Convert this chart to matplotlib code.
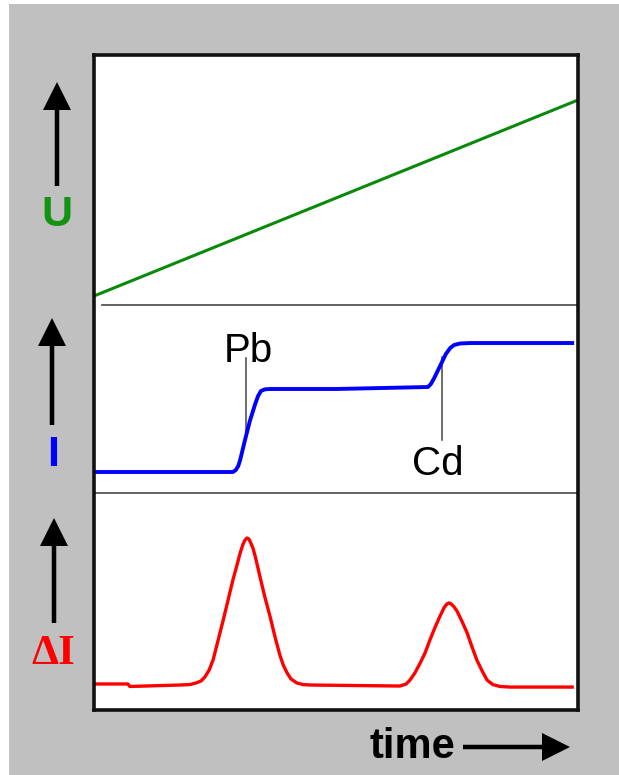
import matplotlib
matplotlib.use("Agg")
import matplotlib.pyplot as plt
from matplotlib.patches import Rectangle, FancyArrow

plt.rcParams['font.family'] = ['Liberation Sans', 'DejaVu Sans']

# ---------------- data ----------------
# potential ramp U(t)
u_time = [0, 100]
u_value = [0.0, 1.0]

# current I(t) (arbitrary units, Pb step = 1)
i_time = [0, 28.7, 29.3, 29.8, 30.2, 31.2, 32.2, 33.3, 33.9, 34.5, 35.3, 36.4,
          50.0, 69.0, 69.6, 70.3, 71.5, 72.7, 73.6, 74.4, 75.6, 77.7, 98.8]
i_value = [0, 0, 0.024, 0.072, 0.145, 0.386, 0.614, 0.819, 0.916, 0.976, 0.996, 1.0,
           1.0, 1.024, 1.06, 1.133, 1.277, 1.422, 1.494, 1.53, 1.548, 1.554, 1.554]

# differential current dI(t) (Pb peak = 1)
di_time = [0.4, 7.0, 7.4, 17.8, 19.8, 21.1, 22.1, 22.9, 23.8, 24.6, 25.6, 26.7,
           27.7, 28.7, 29.6, 30.2, 30.8, 31.2, 31.6, 32.0, 32.4, 32.9, 33.5, 34.3,
           35.3, 36.4, 37.4, 38.4, 39.1, 39.9, 40.7, 41.9, 43.2, 44.6,
           63.2, 64.5, 65.3, 66.3, 67.4, 68.4, 69.4, 70.5, 71.5, 72.3, 72.9, 73.4,
           73.8, 74.4, 75.0, 76.0, 77.1, 78.1, 79.1, 80.2, 81.2, 82.4, 83.9, 86.0, 98.8]
di_value = [0.007, 0.007, -0.01, 0.0, 0.003, 0.014, 0.027, 0.054, 0.102, 0.17, 0.299, 0.442,
            0.578, 0.714, 0.823, 0.898, 0.959, 0.986, 1.0, 0.993, 0.966, 0.925, 0.85, 0.735,
            0.599, 0.463, 0.327, 0.204, 0.136, 0.082, 0.041, 0.014, 0.003, 0.0,
            -0.007, 0.007, 0.034, 0.082, 0.15, 0.218, 0.306, 0.395, 0.469, 0.524, 0.551, 0.558,
            0.551, 0.531, 0.503, 0.435, 0.354, 0.259, 0.17, 0.095, 0.034, 0.003, -0.01, -0.014, -0.014]

peak_labels = ["Pb", "Cd"]
peak_time = [31.4, 71.9]
leader_top = [1.37, 1.39]
leader_bottom = [0.47, 0.39]
label_time = [31.8, 71.0]
label_value = [1.325, -0.036]

axis_labels = ["U", "I", "\u0394I"]
x_label = "time"

# ---------------- figure ----------------
W, H = 619, 775
fig = plt.figure(figsize=(W / 100, H / 100), dpi=100)
fig.patch.set_facecolor('white')

def frac(x0, y0, x1, y1):
    return [x0 / W, 1 - y1 / H, (x1 - x0) / W, (y1 - y0) / H]

# background axes in pixel coordinates
bg = fig.add_axes([0, 0, 1, 1], zorder=0)
bg.set_xlim(0, W)
bg.set_ylim(H, 0)
bg.axis('off')
bg.add_patch(Rectangle((9, 4), W - 9, H - 4, facecolor='#c0c0c0', edgecolor='none'))
bg.add_patch(Rectangle((94, 55), 484, 655, facecolor='white', edgecolor='none'))

BOX_L, BOX_R = 94, 578
top = fig.add_axes(frac(BOX_L, 55, BOX_R, 305), zorder=1)
mid = fig.add_axes(frac(BOX_L, 305, BOX_R, 493), zorder=1)
bot = fig.add_axes(frac(BOX_L, 493, BOX_R, 710), zorder=1)
for ax in (top, mid, bot):
    ax.set_facecolor('none')
    ax.set_xlim(0, 100)
    ax.set_xticks([])
    ax.set_yticks([])
    for s in ax.spines.values():
        s.set_visible(False)

top.set_ylim(-0.0459, 1.2296)
mid.set_ylim(-0.253, 2.012)
bot.set_ylim(-0.170, 1.306)

top.plot(u_time, u_value, color='#0a8a0a', lw=2.2, solid_capstyle='butt')
mid.plot(i_time, i_value, color='#0000ff', lw=2.8, solid_joinstyle='round')
bot.plot(di_time, di_value, color='#ff0000', lw=2.4, solid_joinstyle='round')

# separators
top.plot([0.0165, 1], [0, 0], transform=top.transAxes, color='#555555', lw=1.3, clip_on=False)
mid.plot([0, 1], [0, 0], transform=mid.transAxes, color='#555555', lw=1.3, clip_on=False)

# peak leaders and labels
for name, pt, lt, lb, tx, ty in zip(peak_labels, peak_time, leader_top, leader_bottom,
                                    label_time, label_value):
    mid.plot([pt, pt], [lb, lt], color='#444444', lw=1.1, zorder=1)
    mid.text(tx, ty, name, ha='center', va='baseline', fontsize=29, color='black')

# frame
frame = fig.add_axes(frac(BOX_L, 55, BOX_R, 710), zorder=3)
frame.set_facecolor('none')
frame.set_xticks([])
frame.set_yticks([])
for s in frame.spines.values():
    s.set_linewidth(2.6)
    s.set_color('#111111')

# left arrows and labels
arrow_kw = dict(width=4.5, head_width=28, head_length=28, length_includes_head=True,
                color='black', linewidth=0)
bg.add_patch(FancyArrow(57, 186, 0, -104, **arrow_kw))
bg.add_patch(FancyArrow(52, 425, 0, -107, **arrow_kw))
bg.add_patch(FancyArrow(54, 623, 0, -105, **arrow_kw))
bg.add_patch(FancyArrow(463, 747, 107, 0, **arrow_kw))

bg.text(57, 226, axis_labels[0], ha='center', va='baseline', fontsize=31,
        fontweight='bold', color='#129412')
bg.text(53, 466, axis_labels[1], ha='center', va='baseline', fontsize=31,
        fontweight='bold', color='#0000ff')
bg.text(53, 664, axis_labels[2], ha='center', va='baseline', fontsize=31,
        fontweight='bold', color='#ff0000', family=['Liberation Serif', 'DejaVu Serif'])
bg.text(412, 758, x_label, ha='center', va='baseline', fontsize=30,
        fontweight='bold', color='black')

fig.savefig('out.png', dpi=100, facecolor='white')
